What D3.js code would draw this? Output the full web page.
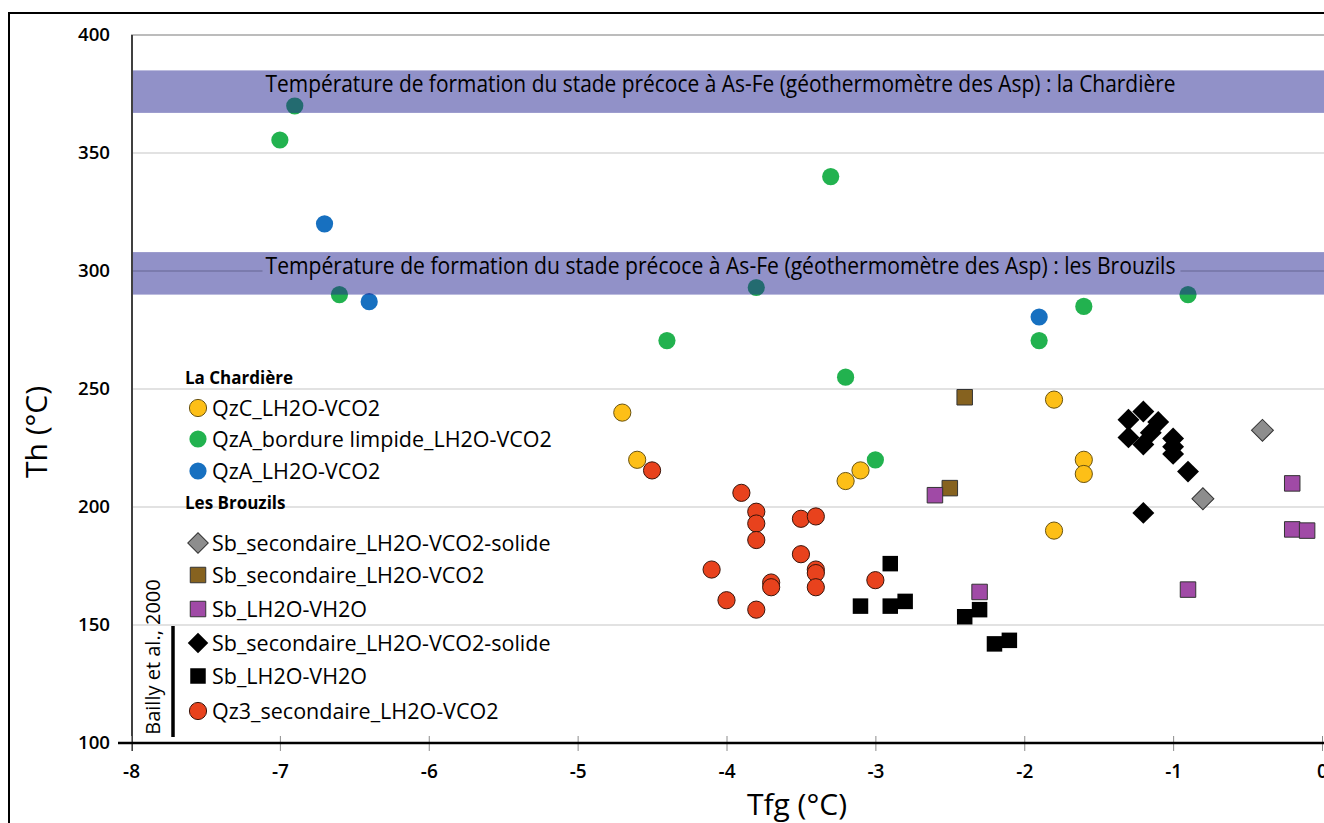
<!DOCTYPE html>
<html lang="fr">
<head>
  <meta charset="UTF-8">
  <title>Th vs Tfg</title>
  <style>
    body { margin: 0; background: #fff; }
    svg text { font-family: "Open Sans", sans-serif; fill: #000; }
  </style>
</head>
<body>
  <section class="plot"></section>
  <script src="https://cdn.jsdelivr.net/npm/d3@7"></script>
  <script>
    // Data  [Tfg, Th]
    const qzC = [[-4.7, 240], [-4.6, 220], [-3.2, 211], [-3.1, 215.5], [-1.8, 245.5], [-1.6, 220], [-1.6, 214], [-1.8, 190]];
    const qzABordure = [[-6.9, 370], [-7.0, 355.5], [-3.3, 340], [-6.6, 290], [-3.8, 293], [-4.4, 270.5], [-3.2, 255], [-1.9, 270.5], [-1.6, 285], [-0.9, 290], [-3.0, 220]];
    const qzA = [[-6.7, 320], [-6.4, 287], [-1.9, 280.5]];
    const sbSecSolideGray = [[-0.4, 232.5], [-0.8, 203.5]];
    const sbSecBrown = [[-2.4, 246.5], [-2.5, 208]];
    const sbPurple = [[-2.6, 205], [-2.3, 164], [-0.9, 165], [-0.2, 210], [-0.2, 190.5], [-0.1, 190]];
    const sbSecSolideBlack = [[-1.3, 237], [-1.2, 240.5], [-1.1, 236], [-1.3, 229.5], [-1.2, 226.5], [-1.15, 231.5], [-1.0, 229], [-1.0, 225.5], [-1.0, 222.5], [-0.9, 215], [-1.2, 197.5]];
    const sbBlack = [[-3.1, 158], [-2.9, 158], [-2.9, 176], [-2.8, 160], [-2.4, 153.5], [-2.3, 156.5], [-2.2, 142], [-2.1, 143.5]];
    const qz3 = [[-4.5, 215.5], [-3.9, 206], [-3.8, 198], [-3.8, 193], [-3.8, 186], [-3.5, 195], [-3.4, 196], [-3.5, 180], [-3.4, 173.5], [-3.4, 172], [-3.4, 166], [-4.1, 173.5], [-3.7, 168], [-3.7, 166], [-4.0, 160.5], [-3.8, 156.5], [-3.0, 169]];

    const bands = [
      { lo: 367, hi: 385, label: "Température de formation du stade précoce à As-Fe (géothermomètre des Asp) : la Chardière" },
      { lo: 290, hi: 308, label: "Température de formation du stade précoce à As-Fe (géothermomètre des Asp) : les Brouzils" }
    ];
    const xTicks = [-8, -7, -6, -5, -4, -3, -2, -1, 0];
    const yTicks = [100, 150, 200, 250, 300, 350, 400];

    const series = [
      { name: "QzC_LH2O-VCO2", data: qzC, shape: "circle", fill: "#fdbf17", stroke: "#6b5410" },
      { name: "QzA_bordure limpide_LH2O-VCO2", data: qzABordure, shape: "circle", fill: "#22b24f", stroke: "none" },
      { name: "QzA_LH2O-VCO2", data: qzA, shape: "circle", fill: "#1770c0", stroke: "none" },
      { name: "Sb_secondaire_LH2O-VCO2-solide", data: sbSecSolideGray, shape: "diamond", fill: "#8d8d8d", stroke: "#333" },
      { name: "Sb_secondaire_LH2O-VCO2", data: sbSecBrown, shape: "square", fill: "#86621f", stroke: "#333" },
      { name: "Sb_LH2O-VH2O", data: sbPurple, shape: "square", fill: "#a04aa6", stroke: "#333" },
      { name: "Sb_secondaire_LH2O-VCO2-solide", data: sbSecSolideBlack, shape: "diamond", fill: "#000", stroke: "none" },
      { name: "Sb_LH2O-VH2O", data: sbBlack, shape: "square", fill: "#000", stroke: "none" },
      { name: "Qz3_secondaire_LH2O-VCO2", data: qz3, shape: "circle", fill: "#e8421d", stroke: "#3a140a" }
    ];

    const W = 1324, H = 823;
    const svg = d3.select(".plot").append("svg").attr("width", W).attr("height", H);

    const x = d3.scaleLinear().domain([-8, 0]).range([131, 1322]);
    const y = d3.scaleLinear().domain([100, 400]).range([743, 35]);

    // outer frame (clipped on right/bottom)
    svg.append("rect").attr("x", 9).attr("y", 13).attr("width", 1330).attr("height", 830)
      .attr("fill", "none").attr("stroke", "#000").attr("stroke-width", 2);

    // gridlines
    svg.append("g").selectAll("line").data(yTicks.filter(d => d > 100)).enter().append("line")
      .attr("x1", x(-8)).attr("x2", x(0) + 2)
      .attr("y1", d => y(d)).attr("y2", d => y(d))
      .attr("stroke", d => d === 400 ? "#a6a6a6" : "#d9d9d9").attr("stroke-width", 1.5);

    // markers
    const sym = {
      circle: d3.symbol(d3.symbolCircle, Math.PI * 8.6 * 8.6),
      square: d3.symbol(d3.symbolSquare, 15.5 * 15.5),
      diamond: d3.symbol(d3.symbolSquare, 15.5 * 15.5)
    };
    series.forEach(s => {
      svg.append("g").selectAll("path").data(s.data).enter().append("path")
        .attr("d", sym[s.shape]())
        .attr("transform", d => `translate(${x(d[0])},${y(d[1])})` + (s.shape === "diamond" ? " rotate(45)" : ""))
        .attr("fill", s.fill).attr("stroke", s.stroke).attr("stroke-width", 1);
    });

    // bands (semi transparent, over the points)
    const bandG = svg.append("g");
    bandG.selectAll("rect").data(bands).enter().append("rect")
      .attr("x", x(-8) + 1).attr("width", x(0) - x(-8) + 4)
      .attr("y", d => y(d.hi)).attr("height", d => y(d.lo) - y(d.hi))
      .attr("fill", "#232391").attr("fill-opacity", 0.5);
    // 300 gridline shows through the band
    bandG.append("line").attr("x1", x(-8)).attr("x2", x(0) + 2).attr("y1", y(300)).attr("y2", y(300))
      .attr("stroke", "#7878a8").attr("stroke-width", 1.5);
    bands.forEach(b => {
      const base = y(b.hi) + 22;
      bandG.append("rect").attr("x", (x(-8) + x(0)) / 2 - 6 - 458).attr("y", base - 18)
        .attr("width", 918).attr("height", 23).attr("fill", "#9191c8");
      bandG.append("text").attr("x", (x(-8) + x(0)) / 2 - 6).attr("y", base)
        .attr("text-anchor", "middle")
        .attr("font-size", 23).attr("textLength", 910).attr("lengthAdjust", "spacingAndGlyphs")
        .text(b.label);
    });

    // y axis
    svg.append("line").attr("x1", x(-8) + 1).attr("x2", x(-8) + 1).attr("y1", y(400)).attr("y2", y(100) + 8)
      .attr("stroke", "#404040").attr("stroke-width", 2);
    svg.append("g").selectAll("text").data(yTicks).enter().append("text")
      .attr("x", 110).attr("y", d => y(d)).attr("dy", "0.35em")
      .attr("text-anchor", "end").attr("font-size", 18).attr("font-weight", 600)
      .attr("textLength", 32).attr("lengthAdjust", "spacingAndGlyphs")
      .text(d => d);

    // x axis
    const xAxis = d3.axisBottom(x).tickValues(xTicks).tickSize(8).tickSizeOuter(0).tickFormat(d => String(d));
    const gx = svg.append("g").attr("transform", `translate(0,${y(100)})`).call(xAxis);
    gx.select(".domain").remove();
    gx.selectAll(".tick line").attr("y1", -7).attr("y2", 8).attr("stroke", "#8c8c8c");
    gx.selectAll(".tick text").attr("y", 22).attr("font-size", 19).attr("font-weight", 600)
      .attr("font-family", "Open Sans, sans-serif").attr("fill", "#000");
    svg.append("line").attr("x1", 118).attr("x2", W).attr("y1", y(100)).attr("y2", y(100))
      .attr("stroke", "#000").attr("stroke-width", 2.5);

    // axis titles
    svg.append("text").attr("transform", "translate(39,432) rotate(-90)")
      .attr("text-anchor", "middle").attr("dominant-baseline", "middle").attr("font-size", 30)
      .text("Th (°C)");
    svg.append("text").attr("x", 797).attr("y", 815).attr("text-anchor", "middle").attr("font-size", 30)
      .text("Tfg (°C)");

    // legend
    const leg = svg.append("g");
    const rowsY = [408, 439, 471, 543, 575, 609, 643, 676, 711];
    leg.append("text").attr("x", 185).attr("y", 378).attr("dy", "0.35em")
      .attr("font-size", 17).attr("font-weight", 700).text("La Chardière");
    leg.append("text").attr("x", 185).attr("y", 503).attr("dy", "0.35em")
      .attr("font-size", 17).attr("font-weight", 700).text("Les Brouzils");
    series.forEach((s, i) => {
      leg.append("path").attr("d", s.shape === "diamond" ? d3.symbol(d3.symbolSquare, 14.5 * 14.5)() : sym[s.shape]())
        .attr("transform", `translate(198,${rowsY[i]})` + (s.shape === "diamond" ? " rotate(45)" : ""))
        .attr("fill", s.fill).attr("stroke", s.stroke).attr("stroke-width", 1);
      leg.append("text").attr("x", 212).attr("y", rowsY[i]).attr("dy", "0.35em")
        .attr("font-size", 21.5).text(s.name);
    });
    svg.append("line").attr("x1", 173).attr("x2", 173).attr("y1", 626).attr("y2", 737)
      .attr("stroke", "#000").attr("stroke-width", 3.5);
    svg.append("text").attr("transform", "translate(155,657) rotate(-90)")
      .attr("text-anchor", "middle").attr("dominant-baseline", "middle").attr("font-size", 20)
      .text("Bailly et al., 2000");
  </script>
</body>
</html>
